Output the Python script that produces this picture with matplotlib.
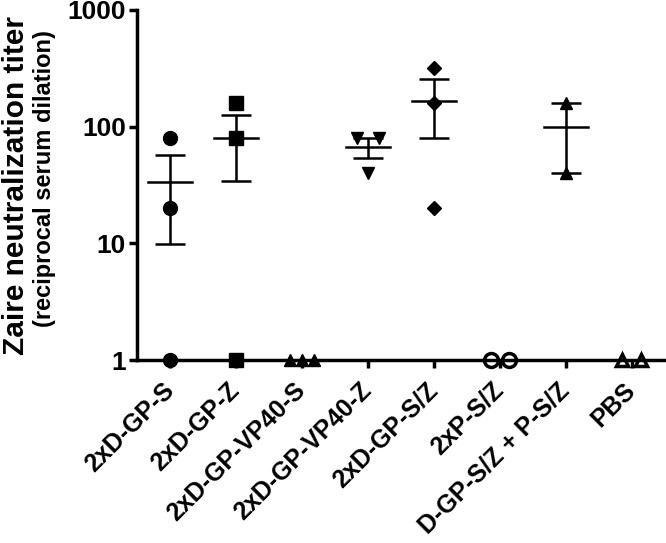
import numpy as np
import matplotlib
matplotlib.use("Agg")
from matplotlib import pyplot as plt

plt.rcParams['font.family'] = ['Liberation Sans', 'DejaVu Sans']
plt.rcParams['font.weight'] = 'bold'

groups = ["2xD-GP-S", "2xD-GP-Z", "2xD-GP-VP40-S", "2xD-GP-VP40-Z",
          "2xD-GP-S/Z", "2xP-S/Z", "D-GP-S/Z + P-S/Z", "PBS"]
titers = [
    [80, 20, 1],
    [160, 80, 1],
    [1, 1, 1],
    [80, 80, 40],
    [320, 160, 20],
    [1, 1],
    [160, 40],
    [1, 1],
]
# scatter offsets for overlapping points (like prism)
jitter = [
    [0, 0, 0],
    [0, 0, 0],
    [-0.18, 0, 0.18],
    [-0.16, 0.16, 0],
    [0, 0, 0],
    [-0.14, 0.14],
    [0, 0],
    [-0.14, 0.14],
]
markers = ['o', 's', '^', 'v', 'D', 'o', '^', '^']
filled = [True, True, True, True, True, False, True, False]
msizes = [10, 10, 9, 9, 7.5, 10, 9, 8.5]

fig = plt.figure(figsize=(6.66, 5.43), dpi=100)
ax = fig.add_axes([0.206, 0.337, 0.792, 0.645])

for i, vals in enumerate(titers):
    vals = np.array(vals, dtype=float)
    xs = i + np.array(jitter[i])
    face = 'black' if filled[i] else 'none'
    ax.plot(xs, vals, linestyle='none', marker=markers[i], ms=msizes[i],
            mfc=face, mec='black', mew=2.5 if not filled[i] else 1,
            clip_on=False, zorder=5)
    m = vals.mean()
    sem = vals.std(ddof=1) / np.sqrt(len(vals))
    if sem > 0:
        ax.plot([i - 0.33, i + 0.33], [m, m], color='black', lw=1.8, zorder=4)
        ax.errorbar(i, m, yerr=sem, fmt='none', ecolor='black', elinewidth=1.8,
                    capsize=11, capthick=1.8, zorder=4)

ax.set_yscale('log')
ax.set_ylim(1, 1000)
ax.set_xlim(-0.5, 7.5)
ax.set_yticks([1, 10, 100, 1000])
ax.set_yticklabels(['1', '10', '100', '1000'])
ax.yaxis.set_minor_locator(matplotlib.ticker.NullLocator())
ax.set_xticks(range(len(groups)))
ax.set_xticklabels(groups, rotation=45, ha='right', va='center',
                   rotation_mode='anchor', fontsize=18, fontweight='bold')
for lab in ax.get_yticklabels():
    lab.set_fontsize(19)
    lab.set_fontweight('bold')

for s in ['top', 'right']:
    ax.spines[s].set_visible(False)
for s in ['left', 'bottom']:
    ax.spines[s].set_linewidth(2.5)
ax.tick_params(axis='both', width=2.5, length=6)
ax.tick_params(axis='x', pad=13)
ax.tick_params(axis='y', pad=2)

fig.text(0.024, 0.659, "Zaire neutralization titer", rotation=90,
         ha='center', va='center', fontsize=21.5, fontweight='bold')
fig.text(0.067, 0.672, "(reciprocal serum dilation)", rotation=90,
         ha='center', va='center', fontsize=17, fontweight='bold')

fig.savefig("out.png", dpi=100)
